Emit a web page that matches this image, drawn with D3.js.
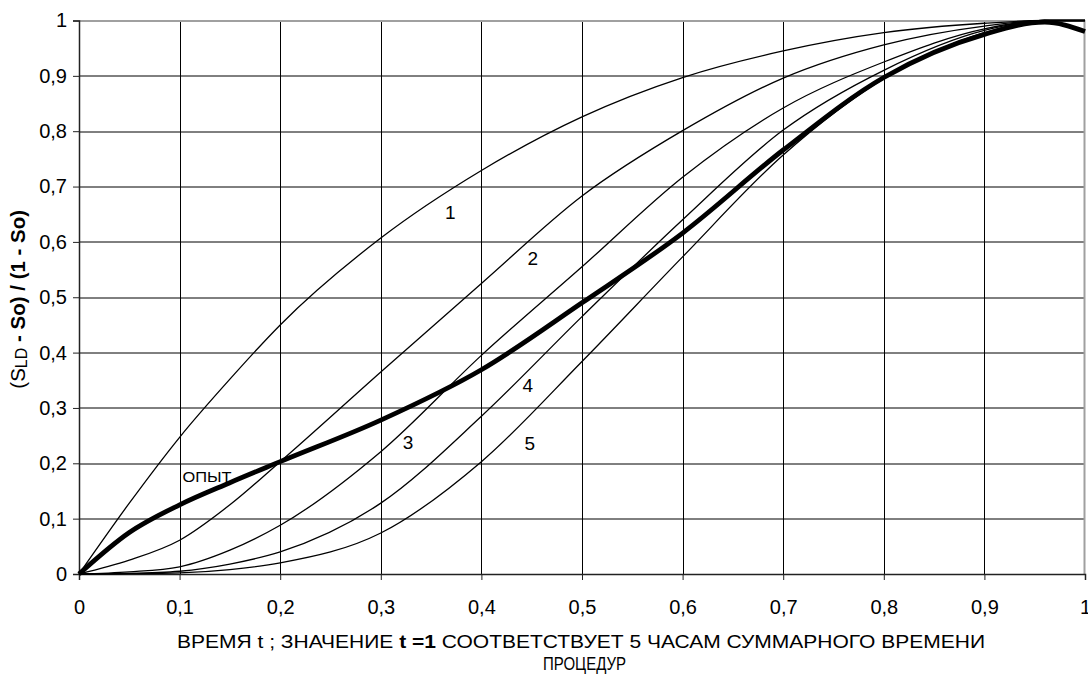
<!DOCTYPE html>
<html>
<head>
<meta charset="utf-8">
<script src="https://cdn.jsdelivr.net/npm/d3@7"></script>
<style>
  body { margin: 0; background: #fff; }
  text { font-family: 'Liberation Sans', Arial, sans-serif; fill: #000; }
</style>
</head>
<body>
<div id="chart"></div>
<script>
// Data
const tValues = [0, 0.05, 0.1, 0.15, 0.2, 0.3, 0.4, 0.5, 0.6, 0.7, 0.8, 0.9, 0.96, 1];
const curve1 = [0, 0.128, 0.247, 0.352, 0.45, 0.607, 0.729, 0.826, 0.897, 0.945, 0.978, 0.995, 1.0, 1.0];
const curve2 = [0, 0.025, 0.061, 0.125, 0.203, 0.365, 0.525, 0.683, 0.801, 0.896, 0.956, 0.99, 1.0, 1.0];
const curve3 = [0, 0.004, 0.013, 0.043, 0.088, 0.221, 0.395, 0.555, 0.717, 0.842, 0.925, 0.985, 1.0, 1.0];
const curve4 = [0, 0.001, 0.005, 0.018, 0.04, 0.128, 0.285, 0.465, 0.64, 0.802, 0.91, 0.982, 1.0, 1.0];
const curve5 = [0, 0.0005, 0.002, 0.008, 0.02, 0.074, 0.203, 0.384, 0.573, 0.757, 0.895, 0.978, 1.0, 1.0];
const opyt   = [0, 0.075, 0.125, 0.165, 0.203, 0.278, 0.369, 0.49, 0.616, 0.766, 0.897, 0.975, 0.997, 0.98];

const xTicks = [0, 0.1, 0.2, 0.3, 0.4, 0.5, 0.6, 0.7, 0.8, 0.9, 1];
const yTicks = [0, 0.1, 0.2, 0.3, 0.4, 0.5, 0.6, 0.7, 0.8, 0.9, 1];

// curve labels: [text, t, value] (centre of the label)
const curveLabels = [['1', 0.369, 0.654], ['2', 0.451, 0.571], ['3', 0.327, 0.238], ['4', 0.446, 0.341], ['5', 0.448, 0.237]];

// Dimensions
const margin = { top: 20.5, right: 3, bottom: 106, left: 79 };
const width = 1088 - margin.left - margin.right;
const height = 680 - margin.top - margin.bottom;

const svg = d3.select('#chart')
    .append('svg')
    .attr('width', 1088)
    .attr('height', 680)
    .append('g')
    .attr('transform', `translate(${margin.left}, ${margin.top})`);

const xScale = d3.scaleLinear().domain([0, 1]).range([0, width]);
const yScale = d3.scaleLinear().domain([0, 1]).range([height, 0]);

// Grid lines
svg.selectAll('.vgrid')
    .data(xTicks.slice(1, -1))
    .join('line')
        .attr('x1', d => Math.round(xScale(d)) + 0.5)
        .attr('x2', d => Math.round(xScale(d)) + 0.5)
        .attr('y1', 0)
        .attr('y2', height)
        .attr('stroke', '#000')
        .attr('stroke-width', 1);
svg.selectAll('.hgrid')
    .data(yTicks.slice(1, -1))
    .join('line')
        .attr('x1', 0)
        .attr('x2', width)
        .attr('y1', d => Math.round(yScale(d)) + 0.5)
        .attr('y2', d => Math.round(yScale(d)) + 0.5)
        .attr('stroke', '#000')
        .attr('stroke-width', 1);

// Gray frame on top and right
svg.append('path')
    .attr('d', `M0,0.5H${width - 0.5}V${height}`)
    .attr('fill', 'none')
    .attr('stroke', '#a0a0a0')
    .attr('stroke-width', 2);

// Axes
const fmt = d => String(d).replace('.', ',');
const yAxis = svg.append('g')
    .call(d3.axisLeft(yScale).tickValues(yTicks).tickFormat(fmt).tickSize(6).tickPadding(6));
const xAxis = svg.append('g')
    .attr('transform', `translate(0, ${height})`)
    .call(d3.axisBottom(xScale).tickValues(xTicks).tickFormat(fmt).tickSize(6).tickPadding(20));
[xAxis, yAxis].forEach(ax => {
    ax.attr('font-size', 20).attr('font-family', "'Liberation Sans', Arial, sans-serif");
    ax.select('.domain').attr('stroke', '#222').attr('stroke-width', 1.5);
    ax.selectAll('.tick line').attr('stroke', '#222');
});

// Lines
const line = d3.line()
    .x((d, i) => xScale(tValues[i]))
    .y(d => yScale(d))
    .curve(d3.curveMonotoneX);

[curve1, curve2, curve3, curve4, curve5].forEach(s => {
    svg.append('path')
        .datum(s)
        .attr('fill', 'none')
        .attr('stroke', '#000')
        .attr('stroke-width', 1.3)
        .attr('d', line);
});
svg.append('path')
    .datum(opyt)
    .attr('fill', 'none')
    .attr('stroke', '#000')
    .attr('stroke-width', 4.8)
    .attr('d', line);

// Curve labels
svg.selectAll('.clabel')
    .data(curveLabels)
    .join('text')
        .attr('x', d => xScale(d[1]))
        .attr('y', d => yScale(d[2]))
        .attr('dy', '0.36em')
        .attr('text-anchor', 'middle')
        .attr('font-size', 19)
        .text(d => d[0]);
svg.append('text')
    .attr('x', xScale(0.103))
    .attr('y', yScale(0.166))
    .attr('font-size', 15)
    .attr('textLength', 49)
    .attr('lengthAdjust', 'spacingAndGlyphs')
    .text('ОПЫТ');

// X axis title
const xt = svg.append('text')
    .attr('font-size', 18)
    .attr('x', 98)
    .attr('y', height + 74)
    .attr('textLength', 808)
    .attr('lengthAdjust', 'spacingAndGlyphs');
xt.append('tspan').text('ВРЕМЯ  t ;  ЗНАЧЕНИЕ   ');
xt.append('tspan').attr('font-weight', 'bold').text('t =1');
xt.append('tspan').text('  СООТВЕТСТВУЕТ   5  ЧАСАМ   СУММАРНОГО   ВРЕМЕНИ');
svg.append('text')
    .attr('font-size', 18)
    .attr('x', 464)
    .attr('y', height + 96)
    .attr('textLength', 83)
    .attr('lengthAdjust', 'spacingAndGlyphs')
    .text('ПРОЦЕДУР');

// Y axis title
const yt = svg.append('text')
    .attr('transform', `translate(${-54}, ${yScale(0.5) + 2}) rotate(-90)`)
    .attr('text-anchor', 'middle')
    .attr('font-size', 20.5);
yt.append('tspan').text('(S');
yt.append('tspan').attr('font-size', 16).attr('dy', 2).text('LD');
yt.append('tspan').attr('dy', -2).attr('font-weight', 'bold').text(' - So) / (1 - So)');
</script>
</body>
</html>
